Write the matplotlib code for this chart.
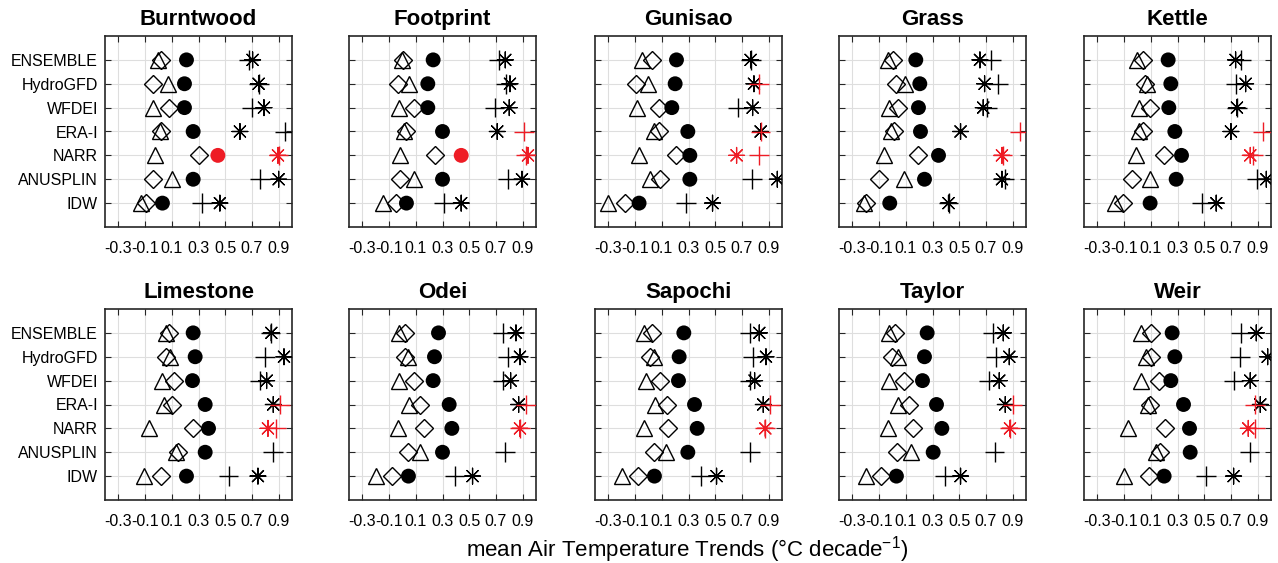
import numpy as np
import matplotlib
matplotlib.use('Agg')
import matplotlib.pyplot as plt

plt.rcParams['font.family'] = ['Liberation Sans', 'DejaVu Sans']
plt.rcParams['mathtext.fontset'] = 'custom'
plt.rcParams['mathtext.rm'] = 'Liberation Sans'
plt.rcParams['mathtext.it'] = 'Liberation Sans:italic'

stations = ['Burntwood', 'Footprint', 'Gunisao', 'Grass', 'Kettle',
            'Limestone', 'Odei', 'Sapochi', 'Taylor', 'Weir']
products = ['ENSEMBLE', 'HydroGFD', 'WFDEI', 'ERA-I', 'NARR', 'ANUSPLIN', 'IDW']
xticks = [-0.3, -0.1, 0.1, 0.3, 0.5, 0.7, 0.9]

# trends per station, rows in product order (ENSEMBLE ... IDW)
tri = [
    [0.00, 0.075, -0.04, 0.01, -0.025, 0.10, -0.13],
    [-0.005, 0.05, -0.025, 0.01, -0.02, 0.09, -0.145],
    [-0.05, 0.00, -0.085, 0.04, -0.07, 0.01, -0.30],
    [-0.03, 0.095, -0.025, -0.01, -0.06, 0.09, -0.21],
    [0.00, 0.07, 0.01, 0.01, -0.01, 0.095, -0.17],
    [0.06, 0.09, 0.025, 0.045, -0.07, 0.13, -0.105],
    [-0.025, 0.045, -0.025, 0.05, -0.03, 0.135, -0.20],
    [-0.03, 0.04, -0.02, 0.05, -0.03, 0.13, -0.20],
    [-0.025, 0.04, -0.025, 0.045, -0.03, 0.14, -0.20],
    [0.03, 0.065, 0.03, 0.08, -0.07, 0.14, -0.10],
]
dia = [
    [0.02, -0.04, 0.08, 0.02, 0.30, -0.04, -0.09],
    [0.005, -0.03, 0.09, 0.025, 0.245, -0.02, -0.05],
    [0.025, -0.09, 0.08, 0.08, 0.21, 0.09, -0.175],
    [0.005, 0.03, 0.045, 0.01, 0.19, -0.10, -0.20],
    [0.04, 0.06, 0.095, 0.04, 0.20, -0.04, -0.11],
    [0.08, 0.06, 0.12, 0.105, 0.26, 0.145, 0.02],
    [0.02, 0.02, 0.085, 0.13, 0.165, 0.045, -0.08],
    [0.025, 0.01, 0.085, 0.14, 0.15, 0.04, -0.08],
    [0.02, 0.00, 0.09, 0.125, 0.155, 0.035, -0.085],
    [0.10, 0.10, 0.16, 0.095, 0.21, 0.17, 0.09],
]
circ = [
    [0.21, 0.195, 0.195, 0.26, 0.445, 0.26, 0.03],
    [0.23, 0.19, 0.19, 0.30, 0.44, 0.30, 0.03],
    [0.21, 0.20, 0.175, 0.295, 0.31, 0.31, -0.07],
    [0.175, 0.205, 0.195, 0.21, 0.345, 0.24, -0.02],
    [0.23, 0.25, 0.235, 0.28, 0.33, 0.29, 0.095],
    [0.26, 0.275, 0.255, 0.35, 0.375, 0.35, 0.21],
    [0.27, 0.24, 0.23, 0.35, 0.37, 0.30, 0.045],
    [0.265, 0.23, 0.225, 0.345, 0.365, 0.295, 0.045],
    [0.26, 0.24, 0.225, 0.33, 0.37, 0.305, 0.03],
    [0.26, 0.28, 0.25, 0.345, 0.39, 0.395, 0.20],
]
plus = [
    [0.675, 0.755, 0.70, 0.945, 0.90, 0.76, 0.325],
    [0.725, 0.775, 0.69, 0.91, 0.925, 0.79, 0.31],
    [0.77, 0.83, 0.67, 0.84, 0.83, 0.775, 0.28],
    [0.74, 0.79, 0.71, 0.955, 0.825, 0.84, 0.42],
    [0.775, 0.74, 0.745, 0.94, 0.865, 0.895, 0.48],
    [0.84, 0.80, 0.76, 0.91, 0.88, 0.86, 0.525],
    [0.755, 0.79, 0.755, 0.925, 0.88, 0.77, 0.39],
    [0.76, 0.78, 0.76, 0.91, 0.875, 0.76, 0.395],
    [0.755, 0.775, 0.72, 0.90, 0.88, 0.765, 0.39],
    [0.775, 0.77, 0.72, 0.88, 0.88, 0.84, 0.515],
]
ast = [
    [0.705, 0.75, 0.79, 0.61, 0.895, 0.90, 0.46],
    [0.77, 0.805, 0.80, 0.71, 0.94, 0.895, 0.44],
    [0.765, 0.79, 0.78, 0.84, 0.66, 0.965, 0.48],
    [0.655, 0.69, 0.68, 0.51, 0.82, 0.82, 0.42],
    [0.735, 0.81, 0.745, 0.70, 0.845, 0.965, 0.59],
    [0.845, 0.94, 0.81, 0.86, 0.82, np.nan, 0.745],
    [0.85, 0.88, 0.81, 0.87, 0.88, np.nan, 0.525],
    [0.83, 0.88, 0.795, 0.86, 0.875, np.nan, 0.51],
    [0.83, 0.875, 0.80, 0.845, 0.88, np.nan, 0.51],
    [0.89, 0.975, 0.845, 0.92, 0.83, np.nan, 0.72],
]

# highlighted (red) points: station index -> product rows
red_circ = {0: [4], 1: [4]}
red_plus = {0: [4], 1: [3, 4], 2: [1, 3, 4], 3: [3, 4], 4: [3, 4],
            5: [3, 4], 6: [3, 4], 7: [3, 4], 8: [3, 4], 9: [3, 4]}
red_ast = {i: [4] for i in range(10)}

fig = plt.figure(figsize=(12.78, 5.63), dpi=100)

lefts = [105, 349, 595, 839, 1084]
tops = [36, 309]
W, H = 187, 191
ypos = np.arange(len(products), 0, -1)

def colors(reds, i):
    return ['#ee1c25' if j in reds.get(i, []) else 'black' for j in range(len(products))]

for i, name in enumerate(stations):
    r, c = divmod(i, 5)
    ax = fig.add_axes([lefts[c] / 1278, 1 - (tops[r] + H) / 563, W / 1278, H / 563])
    ax.grid(True, color='#dedede', linewidth=0.8, zorder=0)
    ax.set_axisbelow(True)

    ax.plot(tri[i], ypos, '^', ms=12, mfc='none', mec='black', mew=1.0, ls='none')
    ax.plot(dia[i], ypos, 'D', ms=9.5, mfc='none', mec='black', mew=1.0, ls='none')
    cc = colors(red_circ, i)
    ax.scatter(circ[i], ypos, s=115, c=cc, edgecolors='none', zorder=3)
    pc = colors(red_plus, i)
    ac = colors(red_ast, i)
    ax.scatter(ast[i], ypos, s=130, marker=(8, 2, 0), c=ac, linewidths=0.9, zorder=4)
    ax.scatter(plus[i], ypos, s=200, marker='+', c=pc, linewidths=1.0, zorder=5)

    ax.set_xlim(-0.4, 1.0)
    ax.set_ylim(0, 8)
    ax.set_xticks(xticks)
    ax.set_xticklabels([f'{v:g}' for v in xticks], fontsize=11.5)
    ax.set_yticks(ypos)
    if c == 0:
        ax.set_yticklabels(products, fontsize=11.5)
    else:
        ax.set_yticklabels([])
    ax.tick_params(direction='in', length=4, width=0.8, top=True, right=True,
                   color='#262626')
    ax.tick_params(axis='x', pad=10)
    ax.tick_params(axis='y', pad=5)
    for sp in ax.spines.values():
        sp.set_linewidth(1.2)
        sp.set_color('#262626')
    ax.set_title(name, fontsize=16, fontweight='bold', pad=8)

fig.text(0.538, 1 - 550 / 563, r'mean Air Temperature Trends (°C decade$^{\mathrm{-1}}$)',
         ha='center', va='center', fontsize=16)

fig.savefig('out.png', dpi=100)
